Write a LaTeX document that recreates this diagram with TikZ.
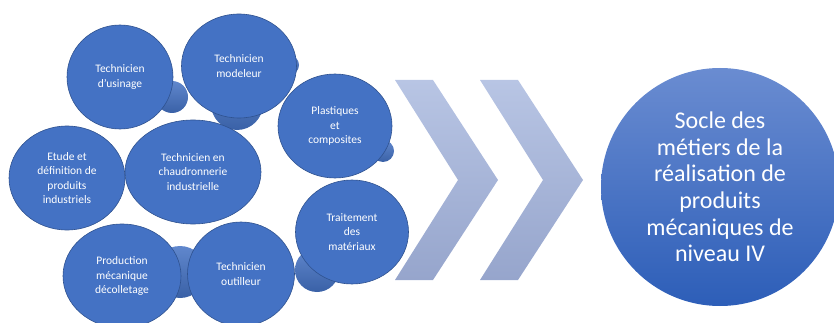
\documentclass[tikz,border=0pt]{standalone}
\usepackage{fontspec}
\setmainfont{Carlito}
\usetikzlibrary{shapes.geometric}

\definecolor{metierblue}{RGB}{68,114,196}
\definecolor{metierline}{RGB}{47,82,143}
\definecolor{chevtop}{RGB}{184,197,228}
\definecolor{chevbot}{RGB}{150,165,204}
\definecolor{socletop}{RGB}{106,140,209}
\definecolor{soclebot}{RGB}{45,94,184}

\begin{document}
\begin{tikzpicture}[x=1pt,y=-1pt,font=\fontsize{11.5}{14.6}\selectfont,
    metier/.style={ellipse,draw=metierline,line width=0.6pt,fill=metierblue,
        text=white,align=center,inner sep=0pt,minimum height=104},
    bulle/.style={top color=metierblue!85!white,bottom color=metierblue!85!black},
    chevron/.style={top color=chevtop,bottom color=chevbot},
    socle/.style={circle,top color=socletop,bottom color=soclebot,text=white,
        align=center,minimum size=238,inner sep=0pt,
        font=\fontsize{24}{26.6}\selectfont}]

    \useasboundingbox (0,0) rectangle (834,323);

    % small bubbles behind
    \shade[bulle] (172,97) circle[radius=16pt];
    \shade[bulle] (237,104) circle[radius=26pt];
    \shade[bulle] (289,65) circle[radius=10pt];
    \shade[bulle] (383,151) circle[radius=11pt];
    \shade[bulle] (180,272) circle[radius=26pt];
    \shade[bulle] (317,270) circle[radius=22pt];

    % metiers
    \node[metier, minimum width=106] (usinage) at (120,77)
    {Technicien\\d'usinage};
    \node[metier, minimum width=115] (modeleur) at (239,66)
    {Technicien\\modeleur};
    \node[metier, minimum width=114] (plastiques) at (335,126)
    {Plastiques\\et\\composites};
    \node[metier, minimum width=116] (etude) at (67,178)
    {Etude et\\définition de\\produits\\industriels};
    \node[metier, minimum width=136] (chaudronnerie) at (193,172)
    {Technicien en\\chaudronnerie\\industrielle};
    \node[metier, minimum width=118] (production) at (122,276)
    {Production\\mécanique\\décolletage};
    \node[metier, minimum width=107] (outilleur) at (241,274)
    {Technicien\\outilleur};
    \node[metier, minimum width=113] (traitement) at (352,232)
    {Traitement\\des\\matériaux};

    % chevrons
    \shade[chevron] (395,80) -- (433,80) -- (498,180) -- (433,280)
        -- (395,280) -- (458,180) -- cycle;
    \shade[chevron] (480,80) -- (518,80) -- (583,180) -- (518,280)
        -- (480,280) -- (543,180) -- cycle;

    % socle
    \node[socle] (socle) at (720,187)
    {Socle des\\métiers de la\\réalisation de\\produits\\mécaniques de\\niveau IV};
\end{tikzpicture}
\end{document}
